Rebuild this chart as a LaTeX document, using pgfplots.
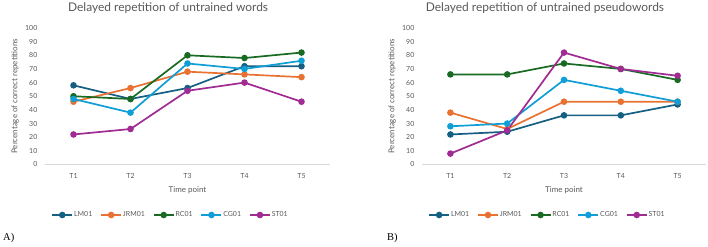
\documentclass[border=0pt]{standalone}
\usepackage{pgfplots}
\pgfplotsset{compat=1.18}
\usepackage{fontspec}
\setmainfont{Lato}
\newfontfamily\seriffont{Liberation Serif}
\definecolor{cLM}{HTML}{156082}
\definecolor{cJRM}{HTML}{E97132}
\definecolor{cRC}{HTML}{196B24}
\definecolor{cCG}{HTML}{0F9ED5}
\definecolor{cST}{HTML}{A02B93}
\definecolor{txt}{HTML}{595959}
\definecolor{axl}{HTML}{D9D9D9}
\pgfplotsset{
  panel/.style={
    scale only axis, width=285bp, height=136.5bp,
    xmin=0.5, xmax=5.5, ymin=0, ymax=100,
    xtick={1,2,3,4,5}, xticklabels={T1,T2,T3,T4,T5},
    ytick={0,10,...,100},
    separate axis lines,
    axis x line*=bottom, axis y line*=left,
    x axis line style={draw=axl, line width=0.9bp},
    y axis line style={draw=none},
    tick style={draw=none},
    /pgf/number format/assume math mode=true,
    ticklabel style={font=\fontsize{7}{8}\selectfont, text=txt},
    yticklabel style={anchor=east, inner sep=0pt, xshift=-7.5bp},
    xticklabel style={anchor=center, inner sep=0pt, yshift=-11.5bp},
    label style={font=\fontsize{8}{9}\selectfont, text=txt},
    xlabel={Time point},
    xlabel style={at={(axis description cs:0.5,-0.187)}, anchor=center, inner sep=0pt},
    ylabel={Percentage of correct repetitions},
    ylabel style={at={(axis description cs:-0.105,0.5)}, anchor=center, rotate=0, inner sep=0pt},
    legend columns=5,
    legend image code/.code={\draw[mark repeat=2,mark phase=2] plot coordinates {(0bp,0bp) (10bp,0bp) (20bp,0bp)};},
    legend style={draw=none, fill=none, font=\fontsize{7}{8}\selectfont, text=txt, anchor=center,
      nodes={inner xsep=1bp},
      /tikz/every even column/.append style={column sep=7bp}},
    every axis plot/.append style={line width=1.7bp, mark=*, mark size=2.4bp},
  },
  ttl/.style={every axis title/.style={at={(axis description cs:#1,1.147)}, anchor=center,
      font=\fontsize{12}{14}\selectfont, text=txt, inner sep=0pt}},
}
\begin{document}
\begin{tikzpicture}
\path[use as bounding box] (0bp,0bp) rectangle (708bp,247bp);
\begin{axis}[panel, at={(45bp,82.5bp)}, anchor=south west, ttl=0.432,
  title={Delayed repetition of untrained words},
  legend style={at={(axis description cs:0.439,-0.37)}}]
\addplot[color=cLM, mark options={fill=cLM}] coordinates {(1,58)(2,48)(3,56)(4,72)(5,72)};
\addplot[color=cJRM, mark options={fill=cJRM}] coordinates {(1,46)(2,56)(3,68)(4,66)(5,64)};
\addplot[color=cRC, mark options={fill=cRC}] coordinates {(1,50)(2,48)(3,80)(4,78)(5,82)};
\addplot[color=cCG, mark options={fill=cCG}] coordinates {(1,48)(2,38)(3,74)(4,70)(5,76)};
\addplot[color=cST, mark options={fill=cST}] coordinates {(1,22)(2,26)(3,54)(4,60)(5,46)};
\legend{LM01,JRM01,RC01,CG01,ST01}
\end{axis}
\begin{axis}[panel, width=284bp, at={(422bp,82.5bp)}, anchor=south west, ttl=0.433,
  title={Delayed repetition of untrained pseudowords},
  legend style={at={(axis description cs:0.44,-0.37)}}]
\addplot[color=cLM, mark options={fill=cLM}] coordinates {(1,22)(2,24)(3,36)(4,36)(5,44)};
\addplot[color=cJRM, mark options={fill=cJRM}] coordinates {(1,38)(2,26)(3,46)(4,46)(5,46)};
\addplot[color=cRC, mark options={fill=cRC}] coordinates {(1,66)(2,66)(3,74)(4,70)(5,62)};
\addplot[color=cCG, mark options={fill=cCG}] coordinates {(1,28)(2,30)(3,62)(4,54)(5,46)};
\addplot[color=cST, mark options={fill=cST}] coordinates {(1,8)(2,25)(3,82)(4,70)(5,65)};
\legend{LM01,JRM01,RC01,CG01,ST01}
\end{axis}
\node[font=\seriffont\fontsize{10.5}{12}\selectfont, anchor=west, inner sep=0pt] at (3bp,9bp) {A)};
\node[font=\seriffont\fontsize{10.5}{12}\selectfont, anchor=west, inner sep=0pt] at (387bp,9bp) {B)};
\end{tikzpicture}
\end{document}
